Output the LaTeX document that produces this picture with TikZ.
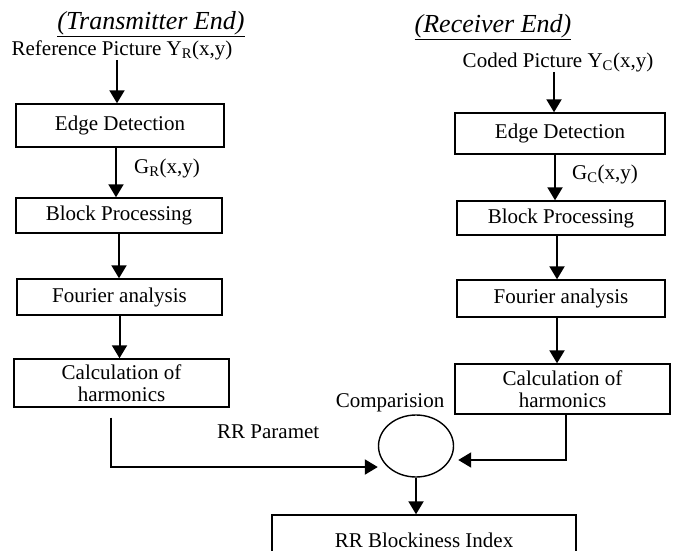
\documentclass[tikz,border=0pt]{standalone}
\usepackage{fontspec}
\setmainfont{Liberation Serif}
\usetikzlibrary{arrows.meta}
\usetikzlibrary{shapes.geometric}
\tikzset{blk/.style={draw, line width=1.4pt, inner sep=0pt, align=center,
  font=\fontsize{21}{22}\selectfont}}
\tikzset{lbl/.style={inner sep=0pt, font=\fontsize{21}{22}\selectfont}}
\tikzset{ttl/.style={inner sep=0pt, font=\fontsize{26}{28}\selectfont\itshape}}
\tikzset{arr/.style={line width=2pt, -{Triangle[width=15pt,length=13pt]}}}

\begin{document}
\begin{tikzpicture}[x=1pt,y=-1pt]
    \useasboundingbox (0,0) rectangle (675,551);
    \clip (0,0) rectangle (675,551);
    % transmitter side
    \node [ttl] (tTitle) at (151,24) {\underline{(Transmitter End)}};
    \node [lbl] (tIn) at (122,50) {Reference Picture Y\textsubscript{R}(x,y)};
    \node [blk, minimum width=208pt, minimum height=43pt] (tEdge) at (120,125.5) {Edge Detection};
    \node [blk, minimum width=206pt, minimum height=35pt] (tBlock) at (119,215.5) {Block Processing};
    \node [blk, minimum width=205pt, minimum height=36pt] (tFour) at (119.5,297) {Fourier analysis};
    \node [blk, minimum width=215pt, minimum height=48pt] (tCalc) at (121.5,383) {Calculation of\\harmonics};
    \node [lbl] (tG) at (167,168) {G\textsubscript{R}(x,y)};
    % receiver side
    \node [ttl] (rTitle) at (493,27) {\underline{(Receiver End)}};
    \node [lbl] (rIn) at (558,62) {Coded Picture Y\textsubscript{C}(x,y)};
    \node [blk, minimum width=210pt, minimum height=41pt] (rEdge) at (560,133.5) {Edge Detection};
    \node [blk, minimum width=208pt, minimum height=34pt] (rBlock) at (561,218) {Block Processing};
    \node [blk, minimum width=208pt, minimum height=37pt] (rFour) at (561,298.5) {Fourier analysis};
    \node [blk, minimum width=215pt, minimum height=50pt] (rCalc) at (562.5,389) {Calculation of\\harmonics};
    \node [lbl] (rG) at (605,174) {G\textsubscript{C}(x,y)};
    % comparison and result
    \node [draw, ellipse, line width=1.4pt, minimum width=75pt, minimum height=62pt] (cmp) at (416,446) {};
    \node [lbl] (cmpLbl) at (390,403) {Comparision};
    \begin{scope}
      \clip (200,410) rectangle (318,450);
      \node [lbl, anchor=west] (rrPar) at (217,432) {RR Paramet};
    \end{scope}
    \node [blk, minimum width=304pt, minimum height=50pt] (idx) at (424,540) {RR Blockiness Index};

    \draw [arr] ([xshift=-3pt]tEdge.north |- tIn.south) -- ([xshift=-3pt]tEdge.north);
    \draw [arr] ([xshift=-4pt]tEdge.south) -- ([xshift=-4pt]tEdge.south |- tBlock.north);
    \draw [arr] (tBlock.south) -- (tBlock.south |- tFour.north);
    \draw [arr] (tFour.south) -- (tFour.south |- tCalc.north);
    \draw [arr] ([xshift=-6pt]rEdge.north |- rIn.south) -- ([xshift=-6pt]rEdge.north);
    \draw [arr] ([xshift=-5pt]rEdge.south) -- ([xshift=-5pt]rEdge.south |- rBlock.north);
    \draw [arr] ([xshift=-4pt]rBlock.south) -- ([xshift=-4pt]rBlock.south |- rFour.north);
    \draw [arr] ([xshift=-4pt]rFour.south) -- ([xshift=-4pt]rFour.south |- rCalc.north);
    \draw [arr] ([xshift=-11pt,yshift=-10pt]tCalc.south) |- ([yshift=-21pt]cmp.west);
    \draw [arr] ([xshift=3.5pt]rCalc.south) |- ([xshift=4pt,yshift=-14pt]cmp.east);
    \draw [arr] (cmp.south) -- (cmp.south |- idx.north);
\end{tikzpicture}
\end{document}
